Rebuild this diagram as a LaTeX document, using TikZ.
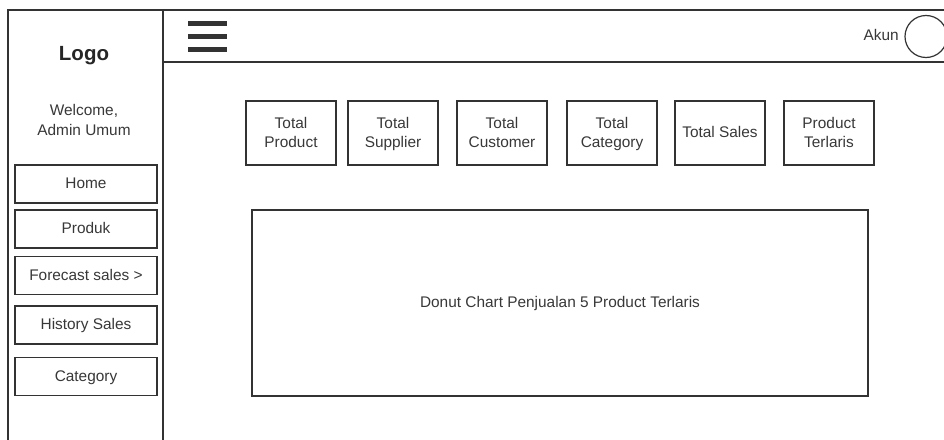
\documentclass[tikz,border=0pt]{standalone}
\usepackage{fontspec}
\setmainfont{Liberation Sans}
\definecolor{ink}{HTML}{333333}
\definecolor{txt}{HTML}{383838}
% fixed line box so every label sits at the same height
\newcommand{\vfix}{\rule[-3.5pt]{0pt}{16.5pt}}
\begin{document}
\begin{tikzpicture}[x=1pt,y=-1pt,
  frame/.style={draw=ink,line width=1.2pt},
  menubtn/.style={draw=ink,line width=1.2pt,minimum width=142pt,minimum height=38pt,inner sep=0pt,
    font=\fontsize{15.4}{19}\selectfont,text=txt},
  statbox/.style={draw=ink,line width=1.2pt,minimum width=90pt,minimum height=64pt,inner sep=0pt,align=center,
    font=\fontsize{15.4}{19}\selectfont,text=txt},
  label/.style={inner sep=0pt,align=center,font=\fontsize{15.4}{19}\selectfont,text=txt},
  bar/.style={draw=ink,line width=5pt}]
\useasboundingbox (0,0) rectangle (944,439);
\fill[white] (0,0) rectangle (944,439);

% outer frame, sidebar and header
\draw[frame] (8,445) -- (8,10) -- (950,10);
\draw[frame] (163,10) -- (163,445);
\draw[frame] (163,62) -- (950,62);

% hamburger icon
\coordinate (h1a) at (188,23); \coordinate (h1b) at (227,23);
\coordinate (h2a) at (188,36); \coordinate (h2b) at (227,36);
\coordinate (h3a) at (188,49); \coordinate (h3b) at (227,49);
\draw[bar] (h1a) -- (h1b);
\draw[bar] (h2a) -- (h2b);
\draw[bar] (h3a) -- (h3b);

% account
\node[label,anchor=east] (akun) at (899,36) {\vfix Akun};
\node[draw=ink,line width=1.2pt,circle,minimum size=42pt,inner sep=0pt] (avatar) at (926,36.5) {};

% sidebar content
\node[label,font=\bfseries\fontsize{20.5}{24}\selectfont,text=black!85] (logo) at (84,56) {Logo};
\node[label,font=\fontsize{15.4}{20}\selectfont] (welcome) at (84,121) {\vfix Welcome,\\\vfix Admin Umum};
\node[menubtn] (home) at (86,184) {\vfix Home};
\node[menubtn] (produk) at (86,229) {\vfix Produk};
\node[menubtn] (forecast) at (86,275.5) {\vfix Forecast sales >};
\node[menubtn] (history) at (86,325) {\vfix History Sales};
\node[menubtn] (category) at (86,376.5) {\vfix Category};

% summary cards
\node[statbox] (tproduct) at (291,133) {\vfix Total\\\vfix Product};
\node[statbox] (tsupplier) at (393,133) {\vfix Total\\\vfix Supplier};
\node[statbox] (tcustomer) at (502,133) {\vfix Total\\\vfix Customer};
\node[statbox] (tcategory) at (612,133) {\vfix Total\\\vfix Category};
\node[statbox] (tsales) at (720,133) {\vfix Total Sales};
\node[statbox] (terlaris) at (829,133) {\vfix Product\\\vfix Terlaris};

% chart area
\node[draw=ink,line width=1.2pt,minimum width=616pt,minimum height=186pt,inner sep=0pt,label] (chart) at (560,303) {\vfix Donut Chart Penjualan 5 Product Terlaris};
\end{tikzpicture}
\end{document}
